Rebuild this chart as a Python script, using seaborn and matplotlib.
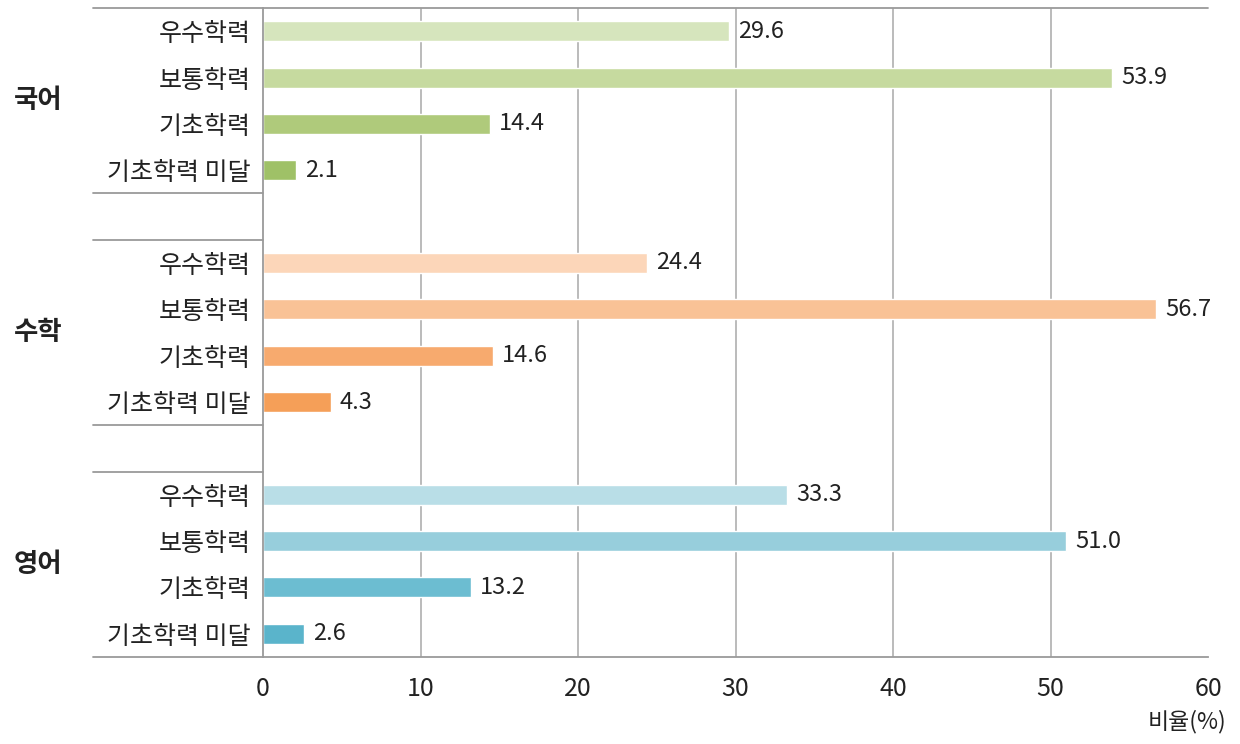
import matplotlib
matplotlib.use("Agg")
import matplotlib.pyplot as plt
import matplotlib.transforms as mtransforms
import pandas as pd
import seaborn as sns

# data
subjects = ["국어", "수학", "영어"]
levels = ["우수학력", "보통학력", "기초학력", "기초학력 미달"]
korean = [29.6, 53.9, 14.4, 2.1]
math = [24.4, 56.7, 14.6, 4.3]
english = [33.3, 51.0, 13.2, 2.6]
x_ticks = [0, 10, 20, 30, 40, 50, 60]

green = ["#d6e5bd", "#c6da9f", "#afca7b", "#9fc167"]
orange = ["#fcd6b9", "#f9c296", "#f7aa6e", "#f59f58"]
blue = ["#b9dee7", "#97cedc", "#6cbdd1", "#5ab4cb"]

values = {"국어": korean, "수학": math, "영어": english}
colors = {"국어": green, "수학": orange, "영어": blue}

rows = []
order = []
palette = {}
tick_labels = []
for i, subj in enumerate(subjects):
    for lvl, val, col in zip(levels, values[subj], colors[subj]):
        key = f"{subj}|{lvl}"
        rows.append({"row": key, "value": val})
        order.append(key)
        palette[key] = col
        tick_labels.append(lvl)
    if i < len(subjects) - 1:
        order.append(f"gap{i}")
        tick_labels.append("")
df = pd.DataFrame(rows)

sns.set_style("white")
plt.rcParams["font.family"] = ["Noto Sans CJK KR", "DejaVu Sans"]
plt.rcParams["font.size"] = 16
text_color = "#222222"
line_color = "#9a9a9a"

fig = plt.figure(figsize=(12.4, 7.44), dpi=100)
ax = fig.add_axes([263 / 1240, 1 - 657 / 744, 945 / 1240, 649 / 744])

ax.set_axisbelow(True)
for t in x_ticks[1:-1]:
    ax.axvline(t, color="#b5b5b5", lw=1.3, zorder=0)

sns.barplot(data=df, x="value", y="row", hue="row", order=order,
            palette=palette, width=0.43, orient="h", legend=False,
            saturation=1, ax=ax)

for cont in ax.containers:
    ax.bar_label(cont, fmt="%.1f", padding=6.5, fontsize=17, color=text_color)

ax.set_xlim(0, 60)
ax.set_ylim(len(order) - 0.5, -0.5)
ax.set_xticks(x_ticks)
ax.set_xticklabels([str(t) for t in x_ticks], fontsize=18, color=text_color)
ax.set_yticks(range(len(order)))
ax.set_yticklabels(tick_labels, fontsize=18, color=text_color)
ax.tick_params(axis="y", length=0, pad=9)
ax.tick_params(axis="x", length=9, width=1.3, color=line_color, pad=5)

# small ticks between bars inside each group
minor = []
for g in range(len(subjects)):
    start = g * 5
    minor += [start + 0.5, start + 1.5, start + 2.5]
ax.set_yticks(minor, minor=True)
ax.tick_params(axis="y", which="minor", length=9, width=1.3, color=line_color)

ax.set_xlabel("")
ax.set_ylabel("")
for side in ["top", "right"]:
    ax.spines[side].set_visible(False)
ax.spines["left"].set_color(line_color)
ax.spines["left"].set_linewidth(1.3)
ax.spines["bottom"].set_color(line_color)
ax.spines["bottom"].set_linewidth(1.3)

# group separator lines reaching into the label column
trans = mtransforms.blended_transform_factory(ax.transAxes, ax.transData)
left_x = (93 - 263) / 945
ax.plot([left_x, 1], [-0.5, -0.5], transform=trans, color=line_color,
        lw=1.3, clip_on=False)
for yy in [3.5, 4.5, 8.5, 9.5, 13.5]:
    ax.plot([left_x, 0], [yy, yy], transform=trans, color=line_color,
            lw=1.3, clip_on=False)

for g, subj in enumerate(subjects):
    ax.text((14 - 263) / 945, g * 5 + 1.5, subj, transform=trans,
            ha="left", va="center", fontsize=19, fontweight="bold",
            color=text_color)

fig.text(1226 / 1240, 1 - 722 / 744, "비율(%)", ha="right", va="center",
         fontsize=16.5, color=text_color)

fig.savefig("out.png", dpi=100)
